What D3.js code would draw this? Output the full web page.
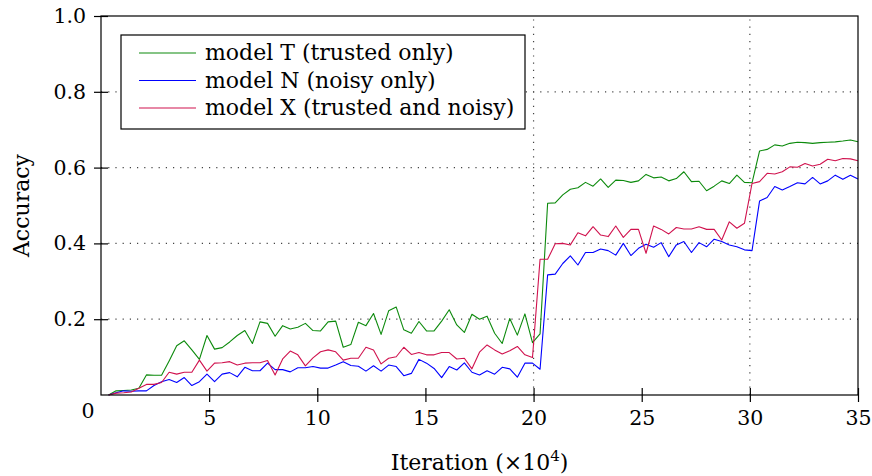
<!DOCTYPE html>
<html>
<head>
<meta charset="utf-8">
<script src="https://cdn.jsdelivr.net/npm/d3@7"></script>
<style>
  body { margin: 0; background: #fff; }
</style>
</head>
<body>
<svg id="chart" width="872" height="476"></svg>
<script>
// accuracy, one sample every 0.35 x10^4 iterations
const modelT = [
  0, 0.011, 0.012, 0.013, 0.018, 0.053, 0.052, 0.052, 0.090, 0.130,
  0.143, 0.119, 0.094, 0.157, 0.121, 0.125, 0.140, 0.157, 0.170, 0.136,
  0.193, 0.189, 0.155, 0.183, 0.174, 0.179, 0.189, 0.170, 0.169, 0.193,
  0.195, 0.126, 0.133, 0.192, 0.183, 0.215, 0.160, 0.222, 0.232, 0.172,
  0.163, 0.194, 0.169, 0.169, 0.195, 0.225, 0.185, 0.165, 0.213, 0.200,
  0.208, 0.163, 0.136, 0.202, 0.158, 0.214, 0.138, 0.161, 0.506, 0.507,
  0.528, 0.543, 0.547, 0.561, 0.551, 0.570, 0.548, 0.567, 0.566, 0.561,
  0.565, 0.582, 0.573, 0.575, 0.565, 0.571, 0.589, 0.563, 0.564, 0.539,
  0.551, 0.565, 0.558, 0.580, 0.561, 0.560, 0.644, 0.648, 0.660, 0.657,
  0.664, 0.667, 0.666, 0.664, 0.666, 0.667, 0.668, 0.670, 0.673, 0.668
];
const modelN = [
  0, 0.006, 0.011, 0.010, 0.011, 0.011, 0.025, 0.035, 0.041, 0.033,
  0.046, 0.025, 0.035, 0.055, 0.035, 0.055, 0.059, 0.048, 0.073, 0.064,
  0.064, 0.084, 0.067, 0.067, 0.061, 0.072, 0.072, 0.075, 0.071, 0.071,
  0.079, 0.088, 0.078, 0.076, 0.063, 0.077, 0.063, 0.079, 0.075, 0.051,
  0.057, 0.094, 0.084, 0.070, 0.046, 0.075, 0.066, 0.085, 0.060, 0.053,
  0.064, 0.055, 0.073, 0.069, 0.047, 0.084, 0.084, 0.068, 0.317, 0.319,
  0.347, 0.367, 0.343, 0.376, 0.376, 0.385, 0.381, 0.369, 0.400, 0.368,
  0.387, 0.398, 0.390, 0.402, 0.365, 0.396, 0.405, 0.376, 0.402, 0.391,
  0.411, 0.405, 0.396, 0.391, 0.383, 0.381, 0.512, 0.521, 0.550, 0.541,
  0.550, 0.560, 0.557, 0.574, 0.557, 0.565, 0.580, 0.569, 0.580, 0.570
];
const modelX = [
  0, 0.005, 0.006, 0.008, 0.018, 0.028, 0.028, 0.033, 0.060, 0.055,
  0.060, 0.060, 0.092, 0.063, 0.084, 0.085, 0.088, 0.079, 0.084, 0.085,
  0.085, 0.091, 0.053, 0.095, 0.116, 0.106, 0.077, 0.098, 0.114, 0.119,
  0.114, 0.092, 0.097, 0.097, 0.126, 0.119, 0.082, 0.097, 0.101, 0.126,
  0.107, 0.112, 0.106, 0.106, 0.112, 0.112, 0.095, 0.097, 0.069, 0.113,
  0.132, 0.119, 0.108, 0.117, 0.128, 0.106, 0.099, 0.358, 0.358, 0.399,
  0.400, 0.396, 0.428, 0.420, 0.444, 0.422, 0.418, 0.446, 0.416, 0.437,
  0.437, 0.374, 0.446, 0.437, 0.425, 0.442, 0.438, 0.438, 0.444, 0.437,
  0.437, 0.409, 0.457, 0.440, 0.453, 0.558, 0.563, 0.585, 0.583, 0.589,
  0.602, 0.601, 0.611, 0.604, 0.609, 0.622, 0.618, 0.624, 0.623, 0.618
];
const stepSize = 0.35;
const xTicks = [5, 10, 15, 20, 25, 30, 35];
const yTicks = [0.2, 0.4, 0.6, 0.8, 1.0];
const xGrid = [20, 30];
const yGrid = [0.2, 0.4, 0.6, 0.8];
const seriesNames = ["model T (trusted only)", "model N (noisy only)", "model X (trusted and noisy)"];

const series = [
  { name: seriesNames[0], values: modelT, color: "#0c8a0c" },
  { name: seriesNames[1], values: modelN, color: "#0000ff" },
  { name: seriesNames[2], values: modelX, color: "#d0124e" }
];

const plotLeft = 101, plotRight = 858, plotTop = 16, plotBottom = 395;
const fontSize = 22;
const tickFontSize = 20.5;
const serif = "'DejaVu Serif', serif";

const svg = d3.select("#chart")
              .attr("font-family", serif);

const x = d3.scaleLinear().domain([0, 35]).range([plotLeft, plotRight]);
const y = d3.scaleLinear().domain([0, 1]).range([plotBottom, plotTop]);

// grid
svg.append("g")
   .selectAll("line")
   .data(yGrid)
   .enter()
   .append("line")
   .attr("x1", plotLeft).attr("x2", plotRight)
   .attr("y1", d => y(d)).attr("y2", d => y(d))
   .attr("stroke", "#444")
   .attr("stroke-width", 1.2)
   .attr("stroke-dasharray", "1.2,6");

svg.append("g")
   .selectAll("line")
   .data(xGrid)
   .enter()
   .append("line")
   .attr("x1", d => x(d)).attr("x2", d => x(d))
   .attr("y1", plotBottom).attr("y2", plotTop)
   .attr("stroke", "#444")
   .attr("stroke-width", 1.2)
   .attr("stroke-dasharray", "1.2,6");

// lines
const line = d3.line()
               .x((d, i) => x((i + 1) * stepSize))
               .y(d => y(d));

svg.append("g")
   .selectAll("path")
   .data(series)
   .enter()
   .append("path")
   .attr("d", d => line(d.values))
   .attr("fill", "none")
   .attr("stroke", d => d.color)
   .attr("stroke-width", 1.1)
   .attr("stroke-linejoin", "round");

// frame
svg.append("rect")
   .attr("x", plotLeft).attr("y", plotTop)
   .attr("width", plotRight - plotLeft).attr("height", plotBottom - plotTop)
   .attr("fill", "none")
   .attr("stroke", "#000")
   .attr("stroke-width", 1.2);

// axes (ticks cross the axis line)
const xAxis = svg.append("g")
                 .attr("transform", `translate(0,${plotBottom})`)
                 .call(d3.axisBottom(x).tickValues(xTicks).tickSize(0).tickPadding(15));
xAxis.attr("font-family", serif).attr("font-size", tickFontSize);
xAxis.select(".domain").remove();
xAxis.selectAll(".tick line").attr("y1", -7).attr("y2", 7).attr("stroke", "#000").attr("stroke-width", 1.2);
xAxis.selectAll(".tick text").attr("fill", "#000");

const yAxis = svg.append("g")
                 .attr("transform", `translate(${plotLeft},0)`)
                 .call(d3.axisLeft(y).tickValues(yTicks).tickFormat(d3.format(".1f")).tickSize(0).tickPadding(15));
yAxis.attr("font-family", serif).attr("font-size", tickFontSize);
yAxis.select(".domain").remove();
yAxis.selectAll(".tick line").attr("x1", -7).attr("x2", 7).attr("stroke", "#000").attr("stroke-width", 1.2);
yAxis.selectAll(".tick text").attr("fill", "#000");

svg.append("text")
   .attr("x", 88).attr("y", 418)
   .attr("text-anchor", "middle")
   .attr("font-size", tickFontSize)
   .text("0");

// axis titles
const xTitle = svg.append("text")
                  .attr("x", (plotLeft + plotRight) / 2)
                  .attr("y", 470)
                  .attr("text-anchor", "middle")
                  .attr("font-size", fontSize);
xTitle.append("tspan").text("Iteration (×10");
xTitle.append("tspan").attr("dy", -9).attr("font-size", 15).text("4");
xTitle.append("tspan").attr("dy", 9).text(")");

svg.append("text")
   .attr("transform", `translate(29,${(plotTop + plotBottom) / 2}) rotate(-90)`)
   .attr("text-anchor", "middle")
   .attr("font-size", fontSize)
   .text("Accuracy");

// legend
const legend = svg.append("g");
legend.append("rect")
      .attr("x", 121).attr("y", 35)
      .attr("width", 404).attr("height", 94)
      .attr("fill", "#fff")
      .attr("stroke", "#000")
      .attr("stroke-width", 1.2);

const rows = legend.selectAll("g.row")
                   .data(series)
                   .enter()
                   .append("g")
                   .attr("class", "row")
                   .attr("transform", (d, i) => `translate(0,${53 + i * 27.5})`);
rows.append("line")
    .attr("x1", 139).attr("x2", 196)
    .attr("stroke", d => d.color)
    .attr("stroke-width", 1.1);
rows.append("text")
    .attr("x", 205).attr("y", 7)
    .attr("font-size", fontSize)
    .text(d => d.name);
</script>
</body>
</html>
